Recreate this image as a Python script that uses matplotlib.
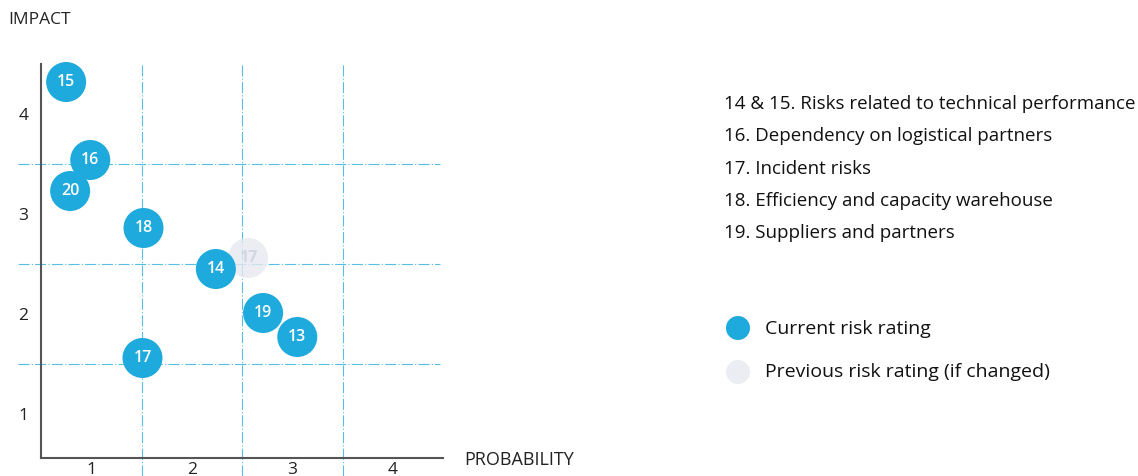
import matplotlib.pyplot as plt

# current risk ratings
risk_ids = ["15", "16", "20", "18", "14", "19", "13", "17"]
probability = [0.75, 0.99, 0.79, 1.52, 2.24, 2.71, 3.05, 1.51]
impact = [4.32, 3.54, 3.23, 2.86, 2.45, 2.01, 1.77, 1.56]

# previous ratings (only where changed)
prev_ids = ["17"]
prev_probability = [2.56]
prev_impact = [2.56]

ticks = [1, 2, 3, 4]
grid_pos = [1.5, 2.5, 3.5]

legend_items = [
    "14 & 15. Risks related to technical performance",
    "16. Dependency on logistical partners",
    "17. Incident risks",
    "18. Efficiency and capacity warehouse",
    "19. Suppliers and partners",
]

BLUE = "#1eaadc"
GHOST = "#e6e9f1"

plt.rcParams["font.family"] = ["Open Sans", "DejaVu Sans"]

fig = plt.figure(figsize=(11.38, 4.76), dpi=100)
ax = fig.add_axes([41 / 1138, 18 / 476, 402 / 1138, 400 / 476])
ax.set_xlim(0.5, 4.5)
ax.set_ylim(0.56, 4.56)

for s in ["top", "right"]:
    ax.spines[s].set_visible(False)
for s in ["left", "bottom"]:
    ax.spines[s].set_color("#555555")
    ax.spines[s].set_linewidth(1.5)
ax.spines["left"].set_bounds(0.56, 4.5)

# grid lines, running a bit past the axes
for g in grid_pos:
    ax.plot([0.27, 4.47], [g, g], color=BLUE, lw=0.8, ls=(0, (10, 2, 1, 2)),
            alpha=0.75, clip_on=False, zorder=1)
    ax.plot([g, g], [0.38, 4.5], color=BLUE, lw=0.8, ls=(0, (10, 2, 1, 2)),
            alpha=0.75, clip_on=False, zorder=1)

ax.scatter(prev_probability, prev_impact, s=830, color=GHOST, alpha=0.8,
           edgecolors="none", zorder=2, clip_on=False)
for x, y, t in zip(prev_probability, prev_impact, prev_ids):
    ax.text(x, y, t, color="#d2d6de", ha="center", va="center",
            fontsize=11.5, fontweight="bold", zorder=3)

ax.scatter(probability, impact, s=830, color=BLUE, edgecolors="none",
           zorder=4, clip_on=False)
for x, y, t in zip(probability, impact, risk_ids):
    ax.text(x, y, t, color="white", ha="center", va="center",
            fontsize=11.5, fontweight="semibold", zorder=5)

ax.set_xticks(ticks)
ax.set_yticks(ticks)
ax.tick_params(length=0, labelsize=12.5, colors="#222222")
ax.tick_params(axis="y", pad=9)
ax.tick_params(axis="x", pad=3)

fig.text(8 / 1138, 1 - 20 / 476, "IMPACT", fontsize=12.5, va="center",
         color="#222222")
fig.text(464 / 1138, 1 - 460 / 476, "PROBABILITY", fontsize=13,
         va="center", color="#222222")

# legend text on the right
y0 = 104
for i, line in enumerate(legend_items):
    fig.text(724 / 1138, 1 - (y0 + i * 32.3) / 476, line, fontsize=13.5,
             va="center", color="#111111")

lax = fig.add_axes([0, 0, 1, 1], zorder=-1)
lax.set_xlim(0, 1138)
lax.set_ylim(476, 0)
lax.axis("off")
lax.scatter([738], [328], s=300, color=BLUE, edgecolors="none")
lax.scatter([738], [372], s=300, color=GHOST, edgecolors="none", alpha=0.8)
fig.text(765 / 1138, 1 - 329 / 476, "Current risk rating", fontsize=14,
         va="center", color="#111111")
fig.text(765 / 1138, 1 - 372 / 476, "Previous risk rating (if changed)",
         fontsize=14, va="center", color="#111111")

fig.savefig("out.png", dpi=100)
